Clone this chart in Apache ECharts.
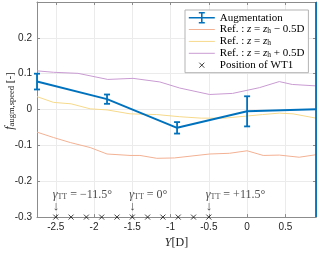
<!DOCTYPE html>
<html>
<head>
<meta charset="utf-8">
<script src="https://cdn.jsdelivr.net/npm/echarts@6/dist/echarts.min.js"></script>
<style>html,body{margin:0;padding:0;background:#fff;}#c{width:320px;height:254px;}</style>
</head>
<body>
<div id="c"></div>
<script>
// ---- data ----
var augX = [-2.745, -1.83, -0.915, 0, 0.9];
var augY = [0.078, 0.029, -0.051, -0.005, 0.001];
var augErr = [0.022, 0.013, 0.016, 0.042, 0.45];

var loX = [-2.745, -2.53, -2.31, -2.05, -1.83, -1.53, -1.40, -1.18, -0.95, -0.49, -0.23, 0, 0.21, 0.42, 0.68, 0.9];
var loY = [-0.063, -0.078, -0.092, -0.106, -0.124, -0.128, -0.128, -0.136, -0.135, -0.124, -0.122, -0.115, -0.128, -0.127, -0.133, -0.126];

var midX = [-2.745, -2.53, -2.3, -2.05, -1.83, -1.53, -1.18, -0.88, -0.6, -0.3, 0, 0.2, 0.42, 0.6, 0.9];
var midY = [0.036, 0.02, 0.016, 0.002, -0.001, -0.012, -0.014, -0.02, -0.024, -0.024, -0.018, -0.014, -0.01, -0.012, -0.024];

var hiX = [-2.745, -2.53, -2.21, -1.82, -1.49, -1.14, -0.88, -0.49, -0.19, 0.16, 0.42, 0.59, 0.9];
var hiY = [0.108, 0.104, 0.101, 0.084, 0.087, 0.077, 0.060, 0.042, 0.045, 0.061, 0.078, 0.070, 0.066];

var wtX = [-2.5, -2.3, -2.1, -1.9, -1.7, -1.5, -1.3, -1.1, -0.9, -0.7, -0.5];
var wtY = -0.3;

var annX = [-2.5, -1.5, -0.5];
var annText = ['\u221211.5\u00b0', '0\u00b0', '+11.5\u00b0'];

// ---- chart ----
var blue = '#0072BD';
var cLo = '#f3b193', cMid = '#f6d98a', cHi = '#c99bd2';
var serif = '"Liberation Serif", "DejaVu Serif", serif';
var sans = '"Liberation Sans", Arial, sans-serif';
function zip(a, b) { return a.map(function (v, i) { return [v, b[i]]; }); }

var legendRich = {
  n: { fontFamily: serif, fontSize: 11, lineHeight: 12, color: '#000' },
  i: { fontFamily: serif, fontSize: 11, lineHeight: 12, fontStyle: 'italic', color: '#000' },
  s: { fontFamily: serif, fontSize: 7.5, lineHeight: 6, verticalAlign: 'bottom', color: '#000' }
};
var legendLabels = {
  Augmentation: '{n|Augmentation}',
  RefLo: '{n|Ref. : }{i|z}{n| = }{i|z}{s|h}{n| \u2212 0.5D}',
  RefMid: '{n|Ref. : }{i|z}{n| = }{i|z}{s|h}',
  RefHi: '{n|Ref. : }{i|z}{n| = }{i|z}{s|h}{n| + 0.5D}',
  WT1: '{n|Position of WT1}'
};
var lineIcon = 'path://M0,4.5L26,4.5L26,5.5L0,5.5Z';

var chart = echarts.init(document.getElementById('c'), null, { renderer: 'canvas' });
var axisCol = '#8c8c8c';
var option = {
  animation: false,
  grid: { left: 37, right: 4, top: 2, bottom: 31 },
  xAxis: [{
    type: 'value', min: -2.745, max: 0.9, splitNumber: 7, minInterval: 0.5, maxInterval: 0.5,
    axisLine: { onZero: false, lineStyle: { color: axisCol } },
    axisTick: { inside: true, length: 3, lineStyle: { color: axisCol } },
    axisLabel: { showMinLabel: false, showMaxLabel: false, margin: 5, fontSize: 10, fontFamily: sans, color: '#262626' },
    splitLine: { show: true, lineStyle: { color: '#ebebeb' } },
    name: '{i|Y}{n|[D]}', nameLocation: 'middle', nameGap: 19,
    nameTextStyle: { rich: {
      i: { fontFamily: serif, fontSize: 12, fontStyle: 'italic', color: '#222' },
      n: { fontFamily: serif, fontSize: 12, color: '#222' } } }
  }, {
    type: 'value', position: 'top', min: -2.745, max: 0.9, splitNumber: 7, minInterval: 0.5, maxInterval: 0.5,
    axisLine: { onZero: false, lineStyle: { color: axisCol } },
    axisTick: { inside: true, length: 3, lineStyle: { color: axisCol } },
    axisLabel: { show: false }, splitLine: { show: false }
  }],
  yAxis: [{
    type: 'value', min: -0.3, max: 0.3, interval: 0.1,
    axisLine: { show: true, onZero: false, lineStyle: { color: axisCol } },
    axisTick: { show: true, inside: true, length: 3, lineStyle: { color: axisCol } },
    axisLabel: { showMaxLabel: false, margin: 5, fontSize: 10, fontFamily: sans, color: '#262626' },
    splitLine: { show: true, lineStyle: { color: '#ebebeb' } }
  }, {
    type: 'value', position: 'right', min: -0.3, max: 0.3, interval: 0.1,
    axisLine: { show: true, onZero: false, lineStyle: { color: axisCol } },
    axisTick: { show: true, inside: true, length: 3, lineStyle: { color: axisCol } },
    axisLabel: { show: false }, splitLine: { show: false }
  }],
  legend: {
    orient: 'vertical', left: 185, top: 10,
    padding: [2, 4, 2, 3], itemGap: 0.4, itemWidth: 26, itemHeight: 10,
    borderColor: '#b3b3b3', borderWidth: 1, backgroundColor: '#fff',
    data: [
      { name: 'Augmentation', icon: 'path://M0,5L26,5M13,0L13,10M10,0L16,0M10,10L16,10',
        itemStyle: { color: 'rgba(0,0,0,0)', borderColor: blue, borderWidth: 1.6 } },
      { name: 'RefLo', icon: lineIcon, itemStyle: { color: cLo, borderWidth: 0 } },
      { name: 'RefMid', icon: lineIcon, itemStyle: { color: cMid, borderWidth: 0 } },
      { name: 'RefHi', icon: lineIcon, itemStyle: { color: cHi, borderWidth: 0 } },
      { name: 'WT1', icon: 'path://M0,0L0.01,0M26,10L25.99,10M10.5,2.5L15.5,7.5M15.5,2.5L10.5,7.5',
        itemStyle: { color: 'rgba(0,0,0,0)', borderColor: '#111', borderWidth: 1 } }
    ],
    formatter: function (n) { return legendLabels[n]; },
    textStyle: { rich: legendRich, padding: [0, 0, 0, 0] }
  },
  graphic: [{
    type: 'text', x: 10, y: 101, rotation: Math.PI / 2,
    style: {
      text: '{i|f}{s|augm,speed}{n| [-]}', align: 'center', verticalAlign: 'middle',
      rich: {
        i: { fontFamily: serif, fontSize: 12, fontStyle: 'italic', lineHeight: 13, fill: '#222' },
        s: { fontFamily: serif, fontSize: 8.5, lineHeight: 8, verticalAlign: 'bottom', fill: '#222' },
        n: { fontFamily: serif, fontSize: 11, lineHeight: 13, fill: '#222' }
      }
    }
  }],
  series: [
    { name: 'RefLo', type: 'line', data: zip(loX, loY), symbol: 'none', lineStyle: { width: 1, color: cLo }, itemStyle: { color: cLo }, z: 2 },
    { name: 'RefMid', type: 'line', data: zip(midX, midY), symbol: 'none', lineStyle: { width: 1, color: cMid }, itemStyle: { color: cMid }, z: 2 },
    { name: 'RefHi', type: 'line', data: zip(hiX, hiY), symbol: 'none', lineStyle: { width: 1, color: cHi }, itemStyle: { color: cHi }, z: 2 },
    { name: 'Augmentation', type: 'line', data: zip(augX, augY), symbol: 'none', lineStyle: { width: 2, color: blue }, itemStyle: { color: blue }, z: 4 },
    { name: 'AugErr', type: 'custom', clip: false, z: 4,
      data: augX.map(function (x, i) { return [x, augY[i], augErr[i]]; }),
      renderItem: function (params, api) {
        var x = api.value(0), y = api.value(1), e = api.value(2);
        var cs = params.coordSys;
        var pT = api.coord([x, y + e]), pB = api.coord([x, y - e]);
        var top = Math.max(pT[1], cs.y), bot = Math.min(pB[1], cs.y + cs.height);
        var st = { stroke: blue, lineWidth: 1.8 };
        var ch = [{ type: 'line', shape: { x1: pT[0], y1: top, x2: pT[0], y2: bot }, style: st }];
        if (pT[1] >= cs.y) ch.push({ type: 'line', shape: { x1: pT[0] - 3, y1: pT[1], x2: pT[0] + 3, y2: pT[1] }, style: st });
        if (pB[1] <= cs.y + cs.height) ch.push({ type: 'line', shape: { x1: pB[0] - 3, y1: pB[1], x2: pB[0] + 3, y2: pB[1] }, style: st });
        return { type: 'group', children: ch };
      }
    },
    { name: 'WT1', type: 'scatter', clip: false, z: 5,
      data: wtX.map(function (x) { return [x, wtY]; }),
      symbol: 'path://M0,0L10,10M10,0L0,10', symbolSize: 5,
      itemStyle: { color: 'rgba(0,0,0,0)', borderColor: '#111', borderWidth: 1 }
    },
    { name: 'Ann', type: 'scatter', clip: false, z: 5, symbolSize: 1, silent: true,
      data: annX.map(function (x) { return [x, wtY]; }),
      itemStyle: { color: 'rgba(0,0,0,0)' },
      label: {
        show: true, position: 'top', distance: 4, align: 'left', offset: [-3, 0],
        formatter: function (p) { return '{g|\u03b3}{s|TT}{n| = ' + annText[p.dataIndex] + '}\n{a|\u2193}'; },
        rich: {
          g: { fontFamily: serif, fontSize: 12, fontStyle: 'italic', lineHeight: 12, color: '#222' },
          s: { fontFamily: serif, fontSize: 8, lineHeight: 6, verticalAlign: 'bottom', color: '#222' },
          n: { fontFamily: serif, fontSize: 12, lineHeight: 12, color: '#222' },
          a: { fontFamily: serif, fontSize: 13, lineHeight: 12, color: '#222' }
        }
      }
    }
  ]
};
chart.setOption(option);
</script>
</body>
</html>
